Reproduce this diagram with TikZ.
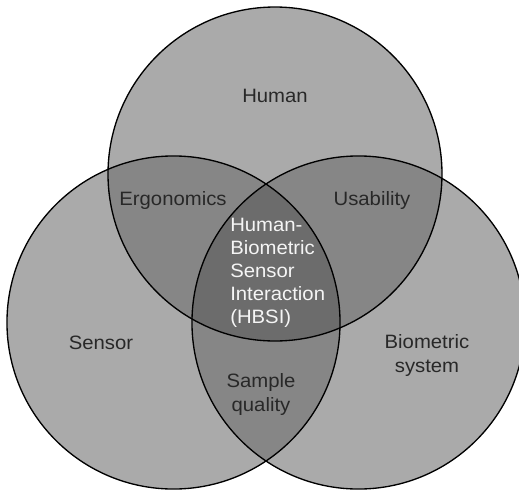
\documentclass[tikz,border=0pt]{standalone}
\usepackage{fontspec}
\newfontfamily\lab[FakeStretch=1.05]{Liberation Sans}
\definecolor{one}{RGB}{170,170,170}
\definecolor{two}{RGB}{134,134,134}
\definecolor{three}{RGB}{108,108,108}
\definecolor{txt}{RGB}{40,40,40}
\definecolor{wtxt}{RGB}{245,245,245}
\begin{document}
\begin{tikzpicture}[x=0.75pt,y=-0.75pt,
  lbl/.style={font=\lab\fontsize{14.5pt}{18pt}\selectfont, text=txt, align=center, inner sep=0pt},
  wlbl/.style={font=\lab\fontsize{14.5pt}{17.3pt}\selectfont, text=wtxt, align=left, inner sep=0pt, anchor=north west},
  ring/.style={draw=black, line width=1pt}]
\useasboundingbox (0,0) rectangle (519,490);
\clip (0,0) rectangle (519,490);
\coordinate (T) at (275,174);
\coordinate (L) at (173.5,322.5);
\coordinate (R) at (358.5,322.5);
\def\rT{125.25pt}
\def\rLR{124.9pt}
% single
\fill[one] (T) circle[radius=\rT];
\fill[one] (L) circle[radius=\rLR];
\fill[one] (R) circle[radius=\rLR];
% pairs
\begin{scope}\clip (T) circle[radius=\rT]; \fill[two] (L) circle[radius=\rLR]; \fill[two] (R) circle[radius=\rLR]; \end{scope}
\begin{scope}\clip (L) circle[radius=\rLR]; \fill[two] (R) circle[radius=\rLR]; \end{scope}
% triple
\begin{scope}\clip (T) circle[radius=\rT]; \clip (L) circle[radius=\rLR]; \fill[three] (R) circle[radius=\rLR]; \end{scope}
% outlines
\draw[ring] (T) circle[radius=\rT];
\draw[ring] (L) circle[radius=\rLR];
\draw[ring] (R) circle[radius=\rLR];
% labels
\node[lbl] (human) at (275,96) {Human};
\node[lbl] (ergo) at (173,200) {Ergonomics};
\node[lbl] (usab) at (372,200) {Usability};
\node[lbl] (sensor) at (101,343) {Sensor};
\node[lbl] (biosys) at (427,355) {Biometric\\system};
\node[lbl] (sample) at (261,394) {Sample\\quality};
\node[wlbl] (hbsi) at (230,218) {Human-\\Biometric\\Sensor\\Interaction\\(HBSI)};
\end{tikzpicture}
\end{document}
